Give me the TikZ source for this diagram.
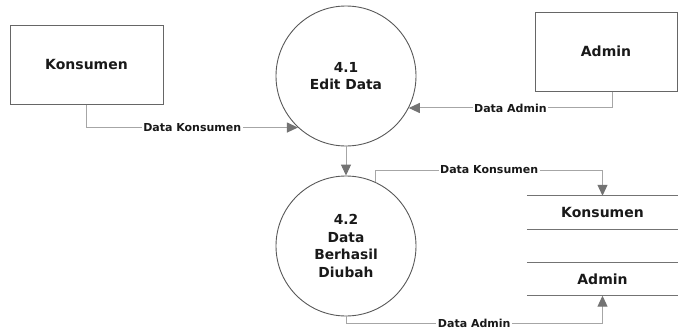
\documentclass[tikz,border=0pt]{standalone}
\usepackage{fontspec}
\setmainfont{DejaVu Sans}
\usetikzlibrary{arrows.meta}

\tikzset{
  entity/.style={draw=black!60,line width=1pt,minimum width=153pt,minimum height=79pt,font=\fontsize{14}{16}\selectfont\bfseries},
  proc/.style={circle,draw=black!65,line width=0.9pt,minimum size=140pt,align=center,font=\fontsize{13.8}{17.5}\selectfont\bfseries},
  store/.style={minimum width=151pt,minimum height=33pt,inner sep=0pt,font=\fontsize{14}{16}\selectfont\bfseries},
  storeline/.style={draw=black!55,line width=1.3pt},
  flow/.style={draw=black!35,line width=1pt,-{Triangle[length=11pt,width=10pt,color=black!55]}},
  lbl/.style={fill=white,inner sep=1.5pt,font=\fontsize{11}{12}\selectfont\bfseries}
}

\begin{document}
\begin{tikzpicture}[x=1pt,y=-1pt,text=black!90]
\useasboundingbox (0,0) rectangle (678,333);

\node [entity] (konsumen) at (86.5,64.5) {Konsumen};
\node [entity,minimum width=142pt] (admin) at (606,51.5) {Admin};
\node [proc] (edit) at (346,76) {4.1\\Edit Data};
\node [proc] (ubah) at (346,246) {4.2\\Data\\Berhasil\\Diubah};
\node [store] (skons) at (602.5,212.5) {Konsumen};
\node [store] (sadm) at (602.5,279) {Admin};
\draw [storeline] (skons.north west) -- (skons.north east);
\draw [storeline] (skons.south west) -- (skons.south east);
\draw [storeline] (sadm.north west) -- (sadm.north east);
\draw [storeline] (sadm.south west) -- (sadm.south east);

\coordinate (k1) at (602.5,170);
\coordinate (a1) at (602.5,323.5);

\draw [flow] (konsumen.south) |- node[lbl,pos=0.75] {Data Konsumen} (edit.227);
\draw [flow] ([xshift=6pt]admin.south) |- node[lbl,pos=0.75] {Data Admin} (edit.-27);
\draw [flow] (edit) -- (ubah);
\draw [flow] (ubah.65) |- node[lbl,pos=0.75] {Data Konsumen} (k1) -- (skons.north);
\draw [flow] (ubah.south) |- node[lbl,pos=0.75] {Data Admin} (a1) -- (sadm.south);
\end{tikzpicture}
\end{document}
